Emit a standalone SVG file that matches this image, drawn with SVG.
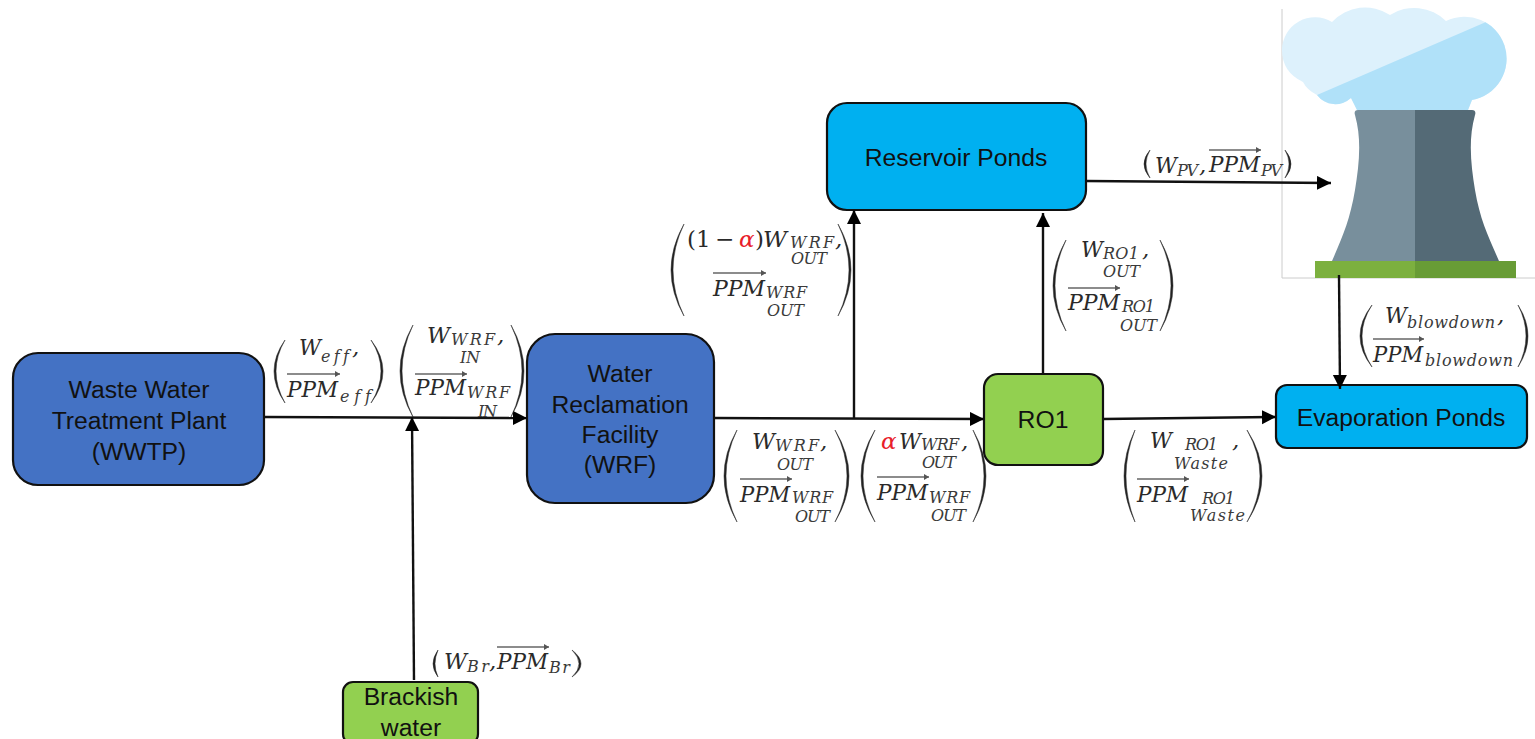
<svg xmlns="http://www.w3.org/2000/svg" width="1535" height="739" viewBox="0 0 1535 739">
<style>
.n{stroke:#111;stroke-width:2.2}
.blue{fill:#4472C4}.sky{fill:#00B0F0}.green{fill:#92D050}
.lb{font-family:"Liberation Sans",Arial,sans-serif;font-size:24.7px;fill:#111;text-anchor:middle}
.m,.s{font-family:"DejaVu Serif","Liberation Serif",serif;font-style:italic;fill:#2a2a2a;font-variant-ligatures:none}
.m{font-size:23px}.s{font-size:16px;fill:#3a3a3a}
.u{font-style:normal}
.red{fill:#e8202a}
.c{fill:none;stroke:#111;stroke-width:2.4}
.p{fill:#222;stroke:#222;stroke-width:.5}
.v{stroke:#666;stroke-width:1.4;marker-end:url(#vec)}
</style>
<defs>
<marker id="ah" markerUnits="userSpaceOnUse" markerWidth="16" markerHeight="16" refX="14" refY="7" orient="auto"><path d="M0,0L14,7L0,14Z" fill="#000"/></marker>
<marker id="vec" markerUnits="userSpaceOnUse" markerWidth="7" markerHeight="7" refX="5" refY="3" orient="auto"><path d="M0,0L5,3L0,6Z" fill="#555"/></marker>
<clipPath id="cd"><path d="M1317,95L1486,22L1535,22L1535,115L1317,115Z"/></clipPath>
<path id="cl" d="M1282,50A33,33 0 0 1 1332,22A45,45 0 0 1 1390,15A45,45 0 0 1 1446,21A42,42 0 1 1 1472,100L1468,110H1357L1351,98A23,23 0 0 1 1317,95Q1307,90 1303,82Q1282,72 1282,50Z"/>
</defs>

<g id="tower">
<path d="M1282,9V278H1535" fill="none" stroke="#ccc" stroke-width="1"/>
<use href="#cl" fill="#DDF1FC"/>
<use href="#cl" fill="#B0E1F9" clip-path="url(#cd)"/>
<path d="M1358,110H1415V261H1332C1342,238 1350,220 1355,190C1359,165 1362,140 1355,115C1354,112 1355,110 1358,110Z" fill="#788F9C"/>
<path d="M1472,110H1415V261H1499C1489,238 1480,220 1475,190C1471,165 1468,140 1475,115C1476,112 1475,110 1472,110Z" fill="#546A76"/>
<rect x="1315" y="261" width="100" height="17" fill="#7CB03F"/>
<rect x="1415" y="261" width="101" height="17" fill="#689C36"/>
</g>

<g id="wwtp"><rect class="n blue" x="13" y="353" width="251" height="132" rx="25"/>
<text class="lb" x="139" y="398">Waste Water</text><text class="lb" x="139" y="429">Treatment Plant</text><text class="lb" x="139" y="460">(WWTP)</text></g>
<g id="wrf"><rect class="n blue" x="527" y="334" width="187" height="169" rx="28"/>
<text class="lb" x="620" y="382">Water</text><text class="lb" x="620" y="413">Reclamation</text><text class="lb" x="620" y="443">Facility</text><text class="lb" x="620" y="473">(WRF)</text></g>
<g id="reservoir"><rect class="n sky" x="827" y="103" width="259" height="107" rx="20"/>
<text class="lb" x="956" y="166">Reservoir Ponds</text></g>
<g id="ro1"><rect class="n green" x="984" y="374" width="119" height="91" rx="14"/>
<text class="lb" x="1043" y="428">RO1</text></g>
<g id="evaporation"><rect class="n sky" x="1276" y="385" width="251" height="63" rx="11"/>
<text class="lb" x="1401" y="426">Evaporation Ponds</text></g>
<g id="brackish"><rect class="n green" x="343" y="682" width="135" height="62" rx="10"/>
<text class="lb" x="411" y="705">Brackish</text><text class="lb" x="411" y="736">water</text></g>

<g id="connectors">
<path class="c" d="M264,417L527,418" marker-end="url(#ah)"/>
<path class="c" d="M414,680L412,417" marker-end="url(#ah)"/>
<path class="c" d="M714,418L984,419" marker-end="url(#ah)"/>
<path class="c" d="M854,418V210" marker-end="url(#ah)"/>
<path class="c" d="M1043,374V213" marker-end="url(#ah)"/>
<path class="c" d="M1086,181L1331,183" marker-end="url(#ah)"/>
<path class="c" d="M1339,275L1340,389" marker-end="url(#ah)"/>
<path class="c" d="M1103,419L1276,417" marker-end="url(#ah)"/>
</g>

<g id="label-eff">
<path class="p" d="M285,340Q263,371 285,403Q267,371 285,340ZM371,340Q395,371 371,403Q391,371 371,340Z"/>
<text class="m" x="299" y="355" textLength="22" lengthAdjust="spacingAndGlyphs">W</text><text class="s" x="321" y="362" textLength="28">eff</text><text class="m" x="352" y="355">,</text>
<path class="v" d="M287,374H340"/><text class="m" x="287" y="397" textLength="51" lengthAdjust="spacingAndGlyphs">PPM</text><text class="s" x="340" y="402" textLength="31">eff</text>
</g>
<g id="label-wrf-in">
<path class="p" d="M413,325Q387,371 413,417Q391,371 413,325ZM511,325Q537,371 511,417Q533,371 511,325Z"/>
<text class="m" x="427" y="343" textLength="23" lengthAdjust="spacingAndGlyphs">W</text><text class="s" x="451" y="345" textLength="44">WRF</text><text class="m" x="497" y="343">,</text><text class="s" x="460" y="363" textLength="20">IN</text>
<path class="v" d="M415,374H467"/><text class="m" x="415" y="395" textLength="51" lengthAdjust="spacingAndGlyphs">PPM</text><text class="s" x="467" y="398" textLength="43">WRF</text><text class="s" x="478" y="417" textLength="19">IN</text>
</g>
<g id="label-recycle">
<path class="p" d="M684,224Q658,270 684,316Q662,270 684,224ZM838,224Q864,270 838,316Q860,270 838,224Z"/>
<text class="m u" x="687" y="247">(1</text><text class="m u" x="715" y="247">−</text><text class="m red" x="739" y="247">α</text><text class="m u" x="755" y="247">)</text><text class="m" x="763" y="247" textLength="24" lengthAdjust="spacingAndGlyphs">W</text><text class="s" x="790" y="248" textLength="44">WRF</text><text class="m" x="835" y="247">,</text><text class="s" x="791" y="264" textLength="36">OUT</text>
<path class="v" d="M713,273H766"/><text class="m" x="713" y="296" textLength="52" lengthAdjust="spacingAndGlyphs">PPM</text><text class="s" x="766" y="298" textLength="41">WRF</text><text class="s" x="767" y="316" textLength="37">OUT</text>
</g>
<g id="label-wrf-out">
<path class="p" d="M737,430Q711,476 737,522Q715,476 737,430ZM835,430Q863,476 835,522Q859,476 835,430Z"/>
<text class="m" x="752" y="449" textLength="23" lengthAdjust="spacingAndGlyphs">W</text><text class="s" x="775" y="451" textLength="44">WRF</text><text class="m" x="820" y="449">,</text><text class="s" x="777" y="470" textLength="36">OUT</text>
<path class="v" d="M740,479H792"/><text class="m" x="740" y="502" textLength="50" lengthAdjust="spacingAndGlyphs">PPM</text><text class="s" x="792" y="503" textLength="41">WRF</text><text class="s" x="795" y="522" textLength="35">OUT</text>
</g>
<g id="label-alpha">
<path class="p" d="M875,430Q847,476 875,522Q851,476 875,430ZM973,430Q999,476 973,522Q995,476 973,430Z"/>
<text class="m red" x="881" y="449">α</text><text class="m" x="899" y="449" textLength="22" lengthAdjust="spacingAndGlyphs">W</text><text class="s" x="921" y="450" textLength="38">WRF</text><text class="m" x="961" y="449">,</text><text class="s" x="922" y="468" textLength="34">OUT</text>
<path class="v" d="M877,477H929"/><text class="m" x="877" y="500" textLength="51" lengthAdjust="spacingAndGlyphs">PPM</text><text class="s" x="929" y="503" textLength="41">WRF</text><text class="s" x="931" y="521" textLength="35">OUT</text>
</g>
<g id="label-pv">
<path class="p" d="M1150,150Q1138,164 1150,178Q1142,164 1150,150ZM1285,150Q1297,164 1285,178Q1293,164 1285,150Z"/>
<text class="m" x="1155" y="173" textLength="22" lengthAdjust="spacingAndGlyphs">W</text><text class="s" x="1177" y="176" textLength="21">PV</text><text class="m" x="1199" y="173">,</text>
<path class="v" d="M1209,150H1261"/><text class="m" x="1209" y="172" textLength="51" lengthAdjust="spacingAndGlyphs">PPM</text><text class="s" x="1261" y="176" textLength="21">PV</text>
</g>
<g id="label-ro1-out">
<path class="p" d="M1066,240Q1040,286 1066,331Q1044,286 1066,240ZM1160,240Q1186,286 1160,331Q1182,286 1160,240Z"/>
<text class="m" x="1081" y="257" textLength="22" lengthAdjust="spacingAndGlyphs">W</text><text class="s" x="1103" y="259" textLength="36">RO1</text><text class="m" x="1142" y="257">,</text><text class="s" x="1103" y="277" textLength="37">OUT</text>
<path class="v" d="M1068,288H1120"/><text class="m" x="1068" y="310" textLength="52" lengthAdjust="spacingAndGlyphs">PPM</text><text class="s" x="1122" y="312" textLength="33">RO1</text><text class="s" x="1120" y="331" textLength="37">OUT</text>
</g>
<g id="label-blowdown">
<path class="p" d="M1372,305Q1348,336 1372,367Q1352,336 1372,305ZM1518,305Q1538,336 1518,367Q1534,336 1518,305Z"/>
<text class="m" x="1385" y="323" textLength="22" lengthAdjust="spacingAndGlyphs">W</text><text class="s" x="1407" y="328" textLength="88">blowdown</text><text class="m" x="1497" y="323">,</text>
<path class="v" d="M1373,339H1424"/><text class="m" x="1373" y="362" textLength="50" lengthAdjust="spacingAndGlyphs">PPM</text><text class="s" x="1425" y="366" textLength="88">blowdown</text>
</g>
<g id="label-ro1-waste">
<path class="p" d="M1135,430Q1113,476 1135,522Q1117,476 1135,430ZM1247,430Q1277,476 1247,522Q1273,476 1247,430Z"/>
<text class="m" x="1150" y="448" textLength="22" lengthAdjust="spacingAndGlyphs">W</text><text class="s" x="1185" y="450" textLength="33">RO1</text><text class="m" x="1232" y="448">,</text><text class="s" x="1174" y="469" textLength="54">Waste</text>
<path class="v" d="M1137,479H1189"/><text class="m" x="1137" y="502" textLength="51" lengthAdjust="spacingAndGlyphs">PPM</text><text class="s" x="1202" y="504" textLength="33">RO1</text><text class="s" x="1190" y="521" textLength="55">Waste</text>
</g>
<g id="label-br">
<path class="p" d="M438,650Q428,664 438,677Q432,664 438,650ZM572,650Q590,664 572,677Q586,664 572,650Z"/>
<text class="m" x="444" y="669" textLength="23" lengthAdjust="spacingAndGlyphs">W</text><text class="s" x="467" y="672" textLength="22">Br</text><text class="m" x="489" y="669">,</text>
<path class="v" d="M497,647H549"/><text class="m" x="497" y="669" textLength="51" lengthAdjust="spacingAndGlyphs">PPM</text><text class="s" x="549" y="673" textLength="21">Br</text>
</g>
</svg>
